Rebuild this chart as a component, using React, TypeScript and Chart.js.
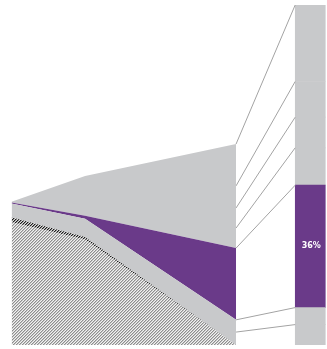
import { useEffect, useRef } from "react";
import { Chart, registerables } from "chart.js";
Chart.register(...registerables);

// x positions of the area chart's points (abstract units 0..100)
const areaX = [0, 23.4, 71.4];
// stacked area layers, bottom to top
const hatchGray = [36.1, 31.0, 0];
const hatchDark = [1.5, 0.8, 0];
const grayLow = [4.0, 5.3, 7.4];
const purpleArea = [0.3, 0.9, 21.1];
const grayTop = [0.2, 11.7, 30.6];

// 100% stacked bar on the right
const barX = 95;
const barLeftX = 90.2;
const barSegments = [6, 5, 36, 11, 9, 10.5, 22.5];
const barLabels = ["", "", "36%", "", "", "", ""];
// the area's right edge split into the same segments as the bar
const areaEndSegments = [3.8, 3.6, 21.1, 5.9, 5.9, 6.5, 12.3];

const GRAY = "#c8c9cb";
const PURPLE = "#6a3a89";
const LINE = "#a3a3a3";

// diagonal "/" hatch, 3px period; colours for the three diagonals
function makeHatch(cols: string[]) {
  const c = document.createElement("canvas");
  c.width = 3;
  c.height = 3;
  const g = c.getContext("2d")!;
  for (let x = 0; x < 3; x++) {
    for (let y = 0; y < 3; y++) {
      g.fillStyle = cols[(x + y) % 3];
      g.fillRect(x, y, 1, 1);
    }
  }
  return g.createPattern(c, "repeat")!;
}

const labelPlugin = {
  id: "barLabels",
  afterDatasetsDraw(chart: any) {
    const { ctx } = chart;
    chart.data.datasets.forEach((ds: any, i: number) => {
      if (!ds.barLabel) return;
      const el = chart.getDatasetMeta(i).data[0];
      if (!el) return;
      ctx.save();
      ctx.fillStyle = "#ffffff";
      ctx.font = "bold 8px 'DejaVu Sans'";
      ctx.textAlign = "center";
      ctx.textBaseline = "middle";
      ctx.fillText(ds.barLabel, el.x + 1, (el.y + el.base) / 2);
      ctx.restore();
    });
  },
};

export default function App() {
  const ref = useRef<HTMLCanvasElement>(null);
  useEffect(() => {
    document.body.style.margin = "0";
    const ctx = ref.current!.getContext("2d")!;

    const areaLayers = [
      { data: hatchGray, color: makeHatch(["#8e8e8e", "#c6c6c6", "#f2f2f2"]) },
      { data: hatchDark, color: makeHatch(["#1c1c1c", "#8a8a8a", "#dcdcdc"]) },
      { data: grayLow, color: GRAY },
      { data: purpleArea, color: PURPLE },
      { data: grayTop, color: GRAY },
    ];
    const areaDatasets = areaLayers.map((l, i) => ({
      type: "line" as const,
      data: l.data.map((v, j) => ({ x: areaX[j], y: v })),
      backgroundColor: l.color,
      borderColor: "transparent",
      borderWidth: 0,
      pointRadius: 0,
      fill: i === 0 ? "origin" : "-1",
      stack: "area",
      tension: 0,
    }));

    const endX = areaX[areaX.length - 1];
    let ca = 0;
    let cb = 0;
    const connectorDatasets = barSegments.map((seg, i) => {
      ca += areaEndSegments[i];
      cb += seg;
      return {
        type: "line" as const,
        yAxisID: "y2",
        data: [
          { x: endX, y: ca },
          { x: barLeftX, y: cb },
        ],
        borderColor: LINE,
        borderWidth: 1,
        pointRadius: 0,
        fill: false,
        tension: 0,
      };
    });

    const barDatasets = barSegments.map((seg, i) => ({
      type: "bar" as const,
      data: [{ x: barX, y: seg }],
      backgroundColor: i === 2 ? PURPLE : GRAY,
      borderWidth: 0,
      barThickness: 30,
      stack: "bar",
      barLabel: barLabels[i],
    }));

    const chart = new Chart(ctx, {
      type: "bar",
      data: { datasets: [...areaDatasets, ...connectorDatasets, ...barDatasets] as any },
      options: {
        animation: false,
        responsive: false,
        layout: { padding: { left: 11.5, right: 1, top: 5, bottom: 4 } },
        plugins: { legend: { display: false }, tooltip: { enabled: false } },
        scales: {
          x: { type: "linear", min: 0, max: 100, offset: false, display: false },
          y: { stacked: true, min: 0, max: 100, display: false },
          y2: { stacked: false, min: 0, max: 100, display: false },
        },
      },
      plugins: [labelPlugin],
    });
    return () => chart.destroy();
  }, []);
  return (
    <div style={{ width: 327, height: 349 }}>
      <canvas ref={ref} width={327} height={349} style={{ display: "block" }} />
    </div>
  );
}
